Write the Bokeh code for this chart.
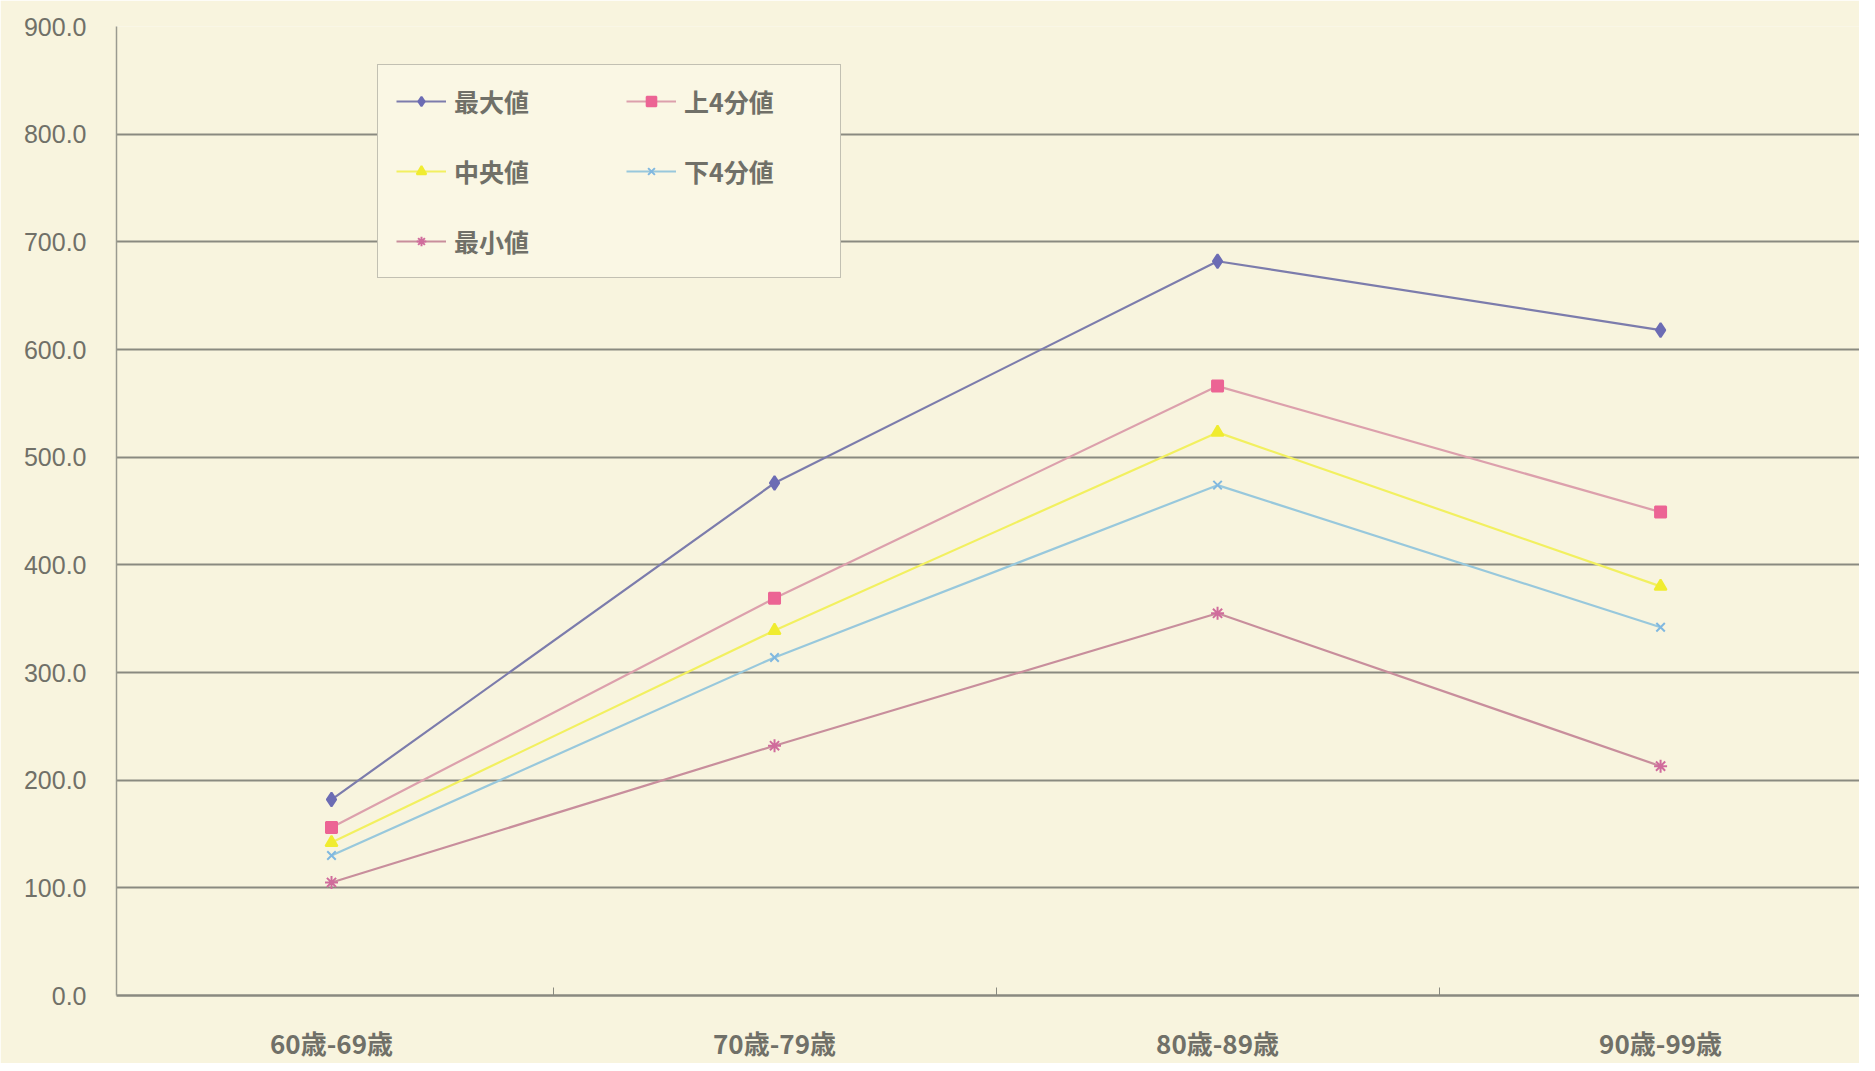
from bokeh.plotting import figure
from bokeh.models import Range1d, FixedTicker, NumeralTickFormatter, Legend, LegendItem
from bokeh.embed import file_html
from bokeh.resources import INLINE

categories = ["60歳-69歳", "70歳-79歳", "80歳-89歳", "90歳-99歳"]
series_names = ["最大値", "上4分値", "中央値", "下4分値", "最小値"]
max_vals = [182, 476, 682, 618]
upper_q = [156, 369, 566, 449]
median_vals = [142, 339, 523, 380]
lower_q = [130, 314, 474, 342]
min_vals = [105, 232, 355, 213]
y_ticks = [0, 100, 200, 300, 400, 500, 600, 700, 800, 900]

BG = "#f8f4de"
NUMFONT = "Liberation Sans"
CJK = "Noto Sans CJK JP"

xs = [i + 0.5 for i in range(len(categories))]

p = figure(width=1859, height=1063, output_backend="svg", toolbar_location=None,
           x_range=Range1d(0.0147, 3.949), y_range=Range1d(0, 900),
           background_fill_color=BG, border_fill_color=BG, outline_line_color=None,
           min_border_left=116, min_border_top=26, min_border_right=0, min_border_bottom=67)

# axes
p.xaxis.ticker = FixedTicker(ticks=xs, minor_ticks=[1, 2, 3])
p.xaxis.major_label_overrides = {x: c for x, c in zip(xs, categories)}
p.xaxis.major_tick_line_color = None
p.xaxis.minor_tick_in = 8
p.xaxis.minor_tick_out = 0
p.xaxis.minor_tick_line_color = "#8a8a80"
p.xaxis.axis_line_color = "#8a8a80"
p.xaxis.axis_line_width = 2.5
p.xaxis.major_label_standoff = 22
p.xaxis.major_label_text_font = CJK
p.xaxis.major_label_text_font_size = "26px"
p.xaxis.major_label_text_font_style = "bold"
p.xaxis.major_label_text_color = "#707068"

p.yaxis.ticker = FixedTicker(ticks=y_ticks)
p.yaxis.formatter = NumeralTickFormatter(format="0.0")
p.yaxis.major_tick_line_color = None
p.yaxis.minor_tick_line_color = None
p.yaxis.axis_line_color = "#9a9a90"
p.yaxis.axis_line_width = 1.5
p.yaxis.major_label_standoff = 24
p.yaxis.major_label_text_font = NUMFONT
p.yaxis.major_label_text_font_size = "25px"
p.yaxis.major_label_text_color = "#707068"

p.xgrid.grid_line_color = None
p.ygrid.grid_line_color = "#8a8a80"
p.ygrid.grid_line_width = 2

specs = [
    (max_vals, "#7c7cac", "#6c6cb4", "diamond", 14),
    (upper_q, "#dca0ac", "#ec6494", "square", 11),
    (median_vals, "#f2f060", "#f0ec30", "triangle", 12),
    (lower_q, "#98c8dc", "#80b8e0", "x", 12),
    (min_vals, "#c88e9c", "#d06c9c", "asterisk", 13),
]

items = []
for name, (vals, lc, mc, marker, sz) in zip(series_names, specs):
    r1 = p.line(xs, vals, line_color=lc, line_width=2.2)
    r2 = p.scatter(xs, vals, marker=marker, size=sz, fill_color=mc, line_color=mc, line_width=2)
    items.append(LegendItem(label=name, renderers=[r1, r2]))

legend = Legend(items=items, location=(261, 717), orientation="horizontal", ncols=2,
                label_text_font=CJK, label_text_font_size="25px", label_text_font_style="bold",
                label_text_color="#707068",
                glyph_width=50, glyph_height=24, label_height=24, label_width=138,
                label_standoff=8, spacing=34, padding=18, margin=0,
                border_line_color="#8a8a80", border_line_width=1.5,
                background_fill_color="#faf7e4", background_fill_alpha=1.0)
p.add_layout(legend, "center")

open("out.html", "w").write(file_html(p, INLINE))
